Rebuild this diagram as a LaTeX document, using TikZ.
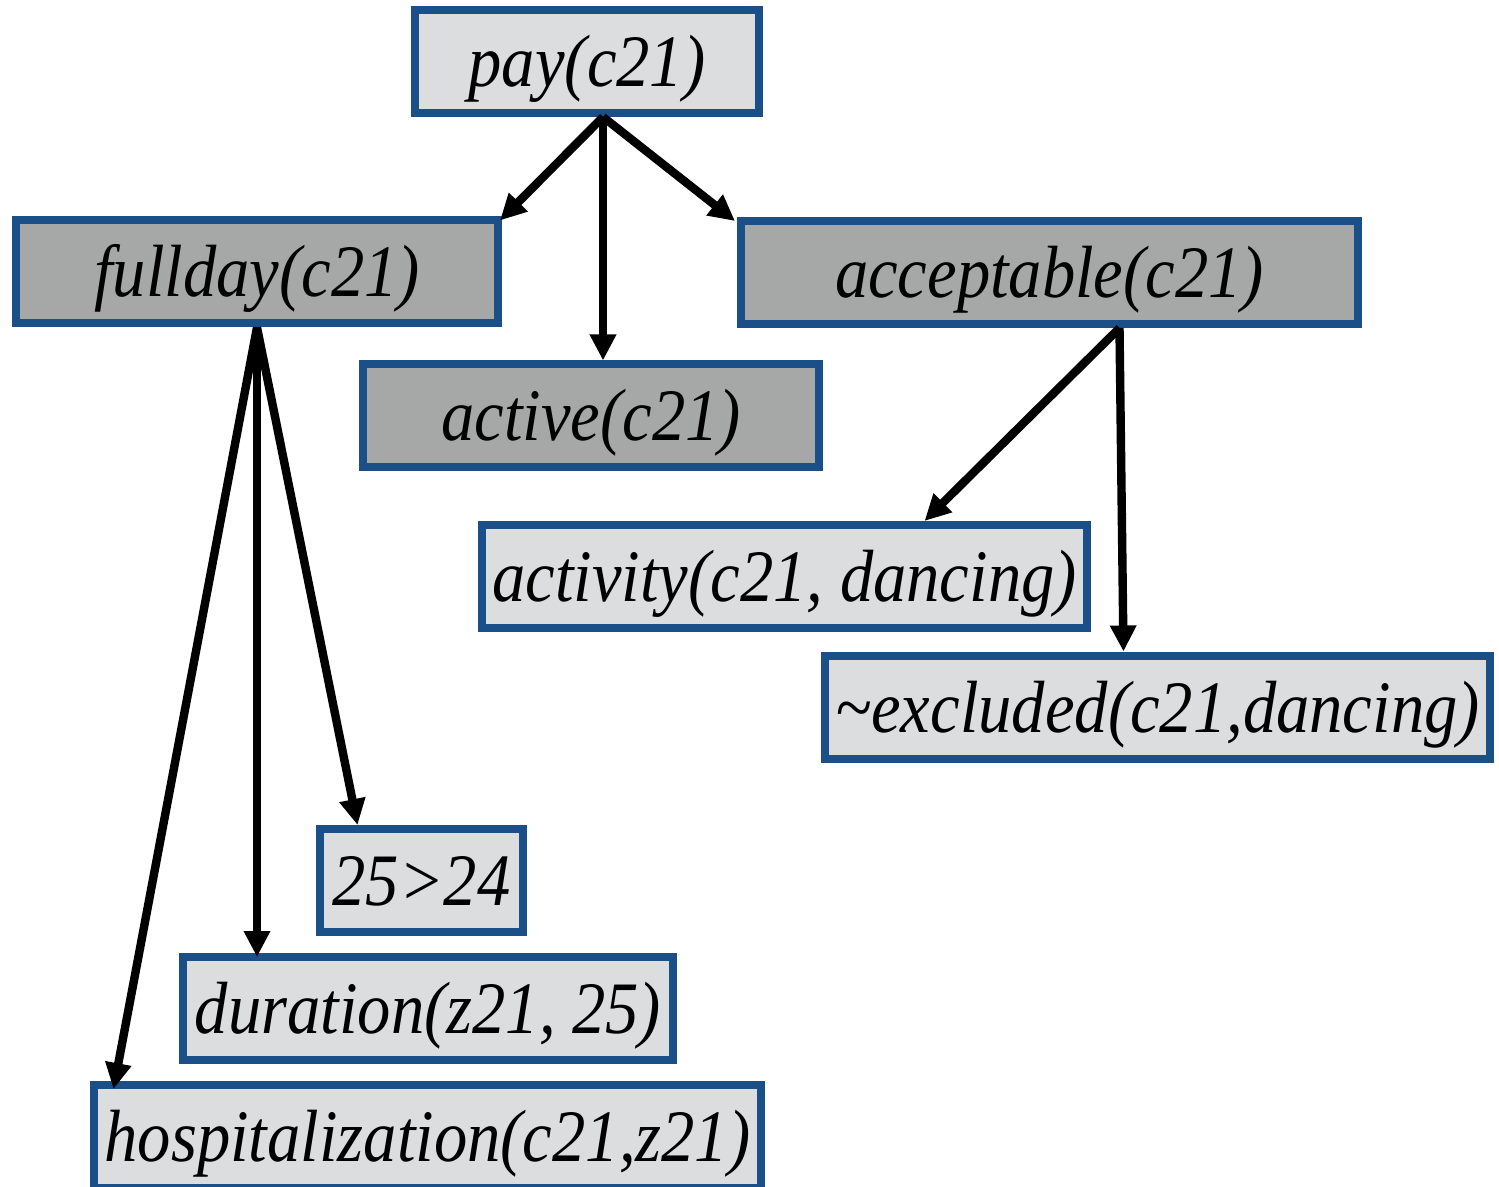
\documentclass[tikz,border=0pt]{standalone}
\usepackage{fontspec}
\newfontfamily\lblfont{Liberation Serif}[FakeStretch=0.9]
\usetikzlibrary{arrows.meta}
\definecolor{boxblue}{RGB}{26,79,135}
\definecolor{lightfill}{RGB}{220,221,223}
\definecolor{darkfill}{RGB}{166,168,167}
\tikzset{
  box/.style={draw=boxblue, line width=4pt, rectangle, inner sep=0pt,
    minimum height=51.5pt, text height=25pt, text depth=0pt,
    font=\lblfont\itshape\fontsize{37}{40}\selectfont},
  litebox/.style={box, fill=lightfill},
  darkbox/.style={box, fill=darkfill},
  arr/.style={line width=4.2pt, -{Triangle[length=13pt,width=12.5pt]}}
}
\begin{document}
\begin{tikzpicture}[x=0.5pt,y=-0.5pt]
\clip (0,0) rectangle (1499,1187);
\node[litebox, minimum width=172pt] (pay) at (587,61.5) {pay(c21)};
\node[darkbox, minimum width=241pt] (fullday) at (257,272) {fullday(c21)};
\node[darkbox, minimum width=308.5pt] (accept) at (1049.5,272.5) {acceptable(c21)};
\node[darkbox, minimum width=228pt] (active) at (591,416) {active(c21)};
\node[litebox, minimum width=302.5pt] (activity) at (784.5,576.5) {activity(c21, dancing)};
\node[litebox, minimum width=332.5pt] (excl) at (1157.5,707) {\textasciitilde excluded(c21,dancing)};
\node[litebox, minimum width=101.5pt] (gt) at (421.5,880.5) {25>24};
\node[litebox, minimum width=245pt] (dur) at (428,1008.5) {duration(z21, 25)};
\node[litebox, minimum width=333.5pt] (hosp) at (427.5,1136.5) {hospitalization(c21,z21)};

\draw[arr] ([xshift=8pt]pay.south) -- ([shift={(-1pt,-2pt)}]fullday.north east);
\draw[arr] ([xshift=8pt]pay.south) -- ([xshift=6pt]active.north);
\draw[arr] ([xshift=8pt]pay.south) -- ([shift={(-1pt,-2pt)}]accept.north west);

\draw[arr] (fullday.south) -- ([xshift=-32pt]gt.north);
\draw[arr] (fullday.south) -- ([shift={(-85.5pt,-2pt)}]dur.north);
\draw[arr] (fullday.south) -- ([shift={(-157pt,-4pt)}]hosp.north);

\draw[arr] ([xshift=35pt]accept.south) -- ([xshift=70pt]activity.north);
\draw[arr] ([xshift=35pt]accept.south) -- ([xshift=-17pt]excl.north);
\end{tikzpicture}
\end{document}
